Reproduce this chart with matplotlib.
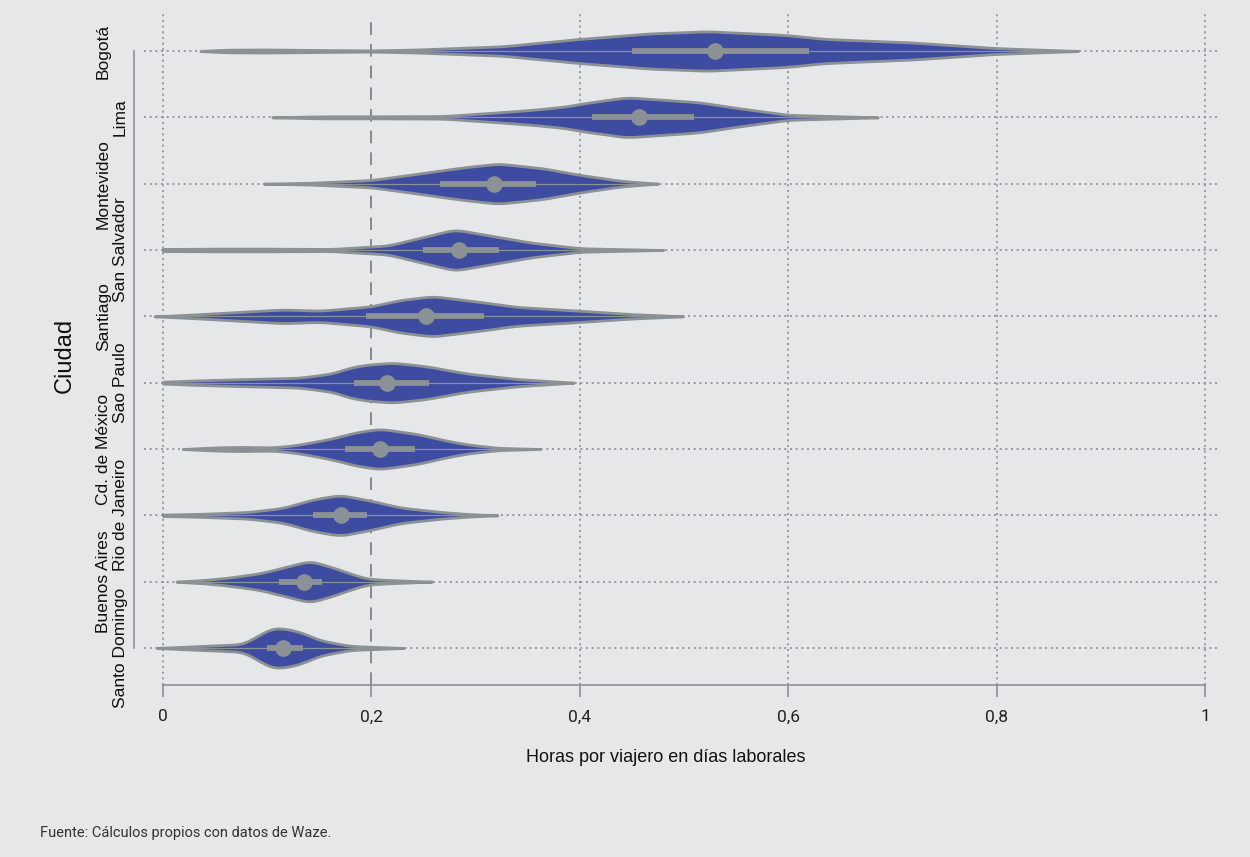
import matplotlib
matplotlib.use('Agg')
import matplotlib.pyplot as plt
import numpy as np

# ciudades de arriba hacia abajo
ciudades = ["Bogotá", "Lima", "Montevideo", "San Salvador", "Santiago",
            "Sao Paulo", "Cd. de México", "Rio de Janeiro", "Buenos Aires",
            "Santo Domingo"]

# perfiles de densidad (horas, densidad relativa) de cada violín
perfil_x = [
    [0.036, 0.06, 0.10, 0.14, 0.20, 0.2415, 0.326, 0.40, 0.467, 0.523, 0.599, 0.635, 0.72, 0.799, 0.878],
    [0.105, 0.15, 0.20, 0.27, 0.326, 0.36, 0.388, 0.40, 0.445, 0.495, 0.515, 0.55, 0.60, 0.635, 0.686],
    [0.097, 0.141, 0.20, 0.244, 0.287, 0.322, 0.365, 0.40, 0.44, 0.475],
    [0.0, 0.05, 0.10, 0.162, 0.216, 0.248, 0.28, 0.319, 0.354, 0.40, 0.44, 0.48],
    [-0.008, 0.03, 0.067, 0.115, 0.151, 0.20, 0.227, 0.259, 0.307, 0.34, 0.40, 0.451, 0.499],
    [0.0, 0.03, 0.067, 0.131, 0.163, 0.18, 0.196, 0.221, 0.253, 0.292, 0.34, 0.394],
    [0.019, 0.05, 0.074, 0.106, 0.128, 0.160, 0.186, 0.208, 0.244, 0.272, 0.292, 0.323, 0.362],
    [0.0, 0.036, 0.083, 0.115, 0.144, 0.17, 0.199, 0.227, 0.266, 0.295, 0.321],
    [0.013, 0.04, 0.061, 0.093, 0.115, 0.141, 0.163, 0.18, 0.196, 0.22, 0.258],
    [-0.006, 0.036, 0.077, 0.09, 0.106, 0.125, 0.138, 0.151, 0.18, 0.231],
]
perfil_d = [
    [0, 1.2, 1.4, 1.0, 0.5, 1.3, 4.3, 11, 16, 18, 14.5, 11, 7.7, 2.7, 0],
    [0, 1.0, 1.0, 1.3, 5.3, 8, 11, 13.5, 20, 16.5, 15, 9.5, 2.5, 1.5, 0],
    [0, 0.8, 3.3, 9, 14.7, 18.3, 14, 8, 2.5, 0],
    [1.0, 1.3, 1.3, 1.0, 4.3, 12, 19.7, 13, 7, 1.7, 0.8, 0],
    [0, 2, 4.3, 7.3, 6, 10.7, 17.3, 21.5, 15, 10, 6, 2.3, 0],
    [0.8, 2, 3, 4.5, 8.5, 14, 16.5, 18.3, 15, 8.3, 3.3, 0],
    [0, 1.5, 2, 1.5, 3.7, 9.5, 16, 19.3, 14.3, 8, 4.3, 1, 0],
    [0.6, 1.3, 3, 6.5, 14, 18, 13, 7, 3, 1, 0],
    [0, 1.5, 3.3, 7.3, 12.3, 18.3, 12.5, 7, 2.5, 1.3, 0],
    [0, 1.7, 3.3, 10, 17.7, 15.5, 11.5, 6.5, 1.7, 0],
]

# cuartiles y mediana
q1 = [0.450, 0.412, 0.266, 0.250, 0.195, 0.183, 0.175, 0.144, 0.111, 0.100]
mediana = [0.530, 0.457, 0.318, 0.284, 0.252, 0.215, 0.208, 0.171, 0.135, 0.115]
q3 = [0.620, 0.510, 0.358, 0.322, 0.308, 0.255, 0.242, 0.196, 0.153, 0.134]

ticks_x = [0, 0.2, 0.4, 0.6, 0.8, 1.0]
ticks_x_lbl = ["0", "0,2", "0,4", "0,6", "0,8", "1"]

FONDO = '#e6e7e8'
AZUL = '#3d4ba0'
GRIS = '#8b9194'
GRIS_GRID = '#8a8f93'

fig = plt.figure(figsize=(12.5, 8.57), dpi=100)
fig.patch.set_facecolor(FONDO)
ax = fig.add_axes([144 / 1250, 172 / 857, 1073 / 1250, 671 / 857])
ax.set_facecolor(FONDO)

n = len(ciudades)
filas = np.arange(n)
ax.set_xlim(-0.0182, 1.0115)
ax.set_ylim(n - 1 + 0.558, -0.558)

# rejilla
for i in filas:
    ax.axhline(i, color=GRIS_GRID, lw=1.2, ls=(0, (1.2, 2.2)), zorder=1)
for t in ticks_x:
    if t == 0.2:
        ax.axvline(t, color='#7d8386', lw=1.3, ls=(0, (7, 5)), zorder=1)
    else:
        ax.axvline(t, color=GRIS_GRID, lw=1.2, ls=(0, (1.2, 2.2)), zorder=1)

ancho = 0.295
paso = 0.001
k = np.hanning(31)
k /= k.sum()
for i in filas:
    px = np.array(perfil_x[i], dtype=float)
    pd_ = np.array(perfil_d[i], dtype=float)
    xs = np.arange(px[0], px[-1] + paso / 2, paso)
    d = np.interp(xs, px, pd_)
    # suavizado del perfil con ventana de ancho fijo en horas
    h = len(k) // 2
    d = np.convolve(np.pad(d, h, mode='edge'), k, mode='valid')
    d[0] = pd_[0]
    d[-1] = pd_[-1]
    w = d / d.max() * ancho
    ax.fill_between(xs, i - w, i + w, facecolor=AZUL, edgecolor=GRIS,
                    lw=2.0, zorder=3)
    # línea fina y caja intercuartil
    ax.plot([px[0], px[-1]], [i, i], color=GRIS, lw=0.9, zorder=4,
            solid_capstyle='butt')
    ax.plot([q1[i], q3[i]], [i, i], color=GRIS, lw=4.2, zorder=5,
            solid_capstyle='butt')
    ax.plot(mediana[i], i, 'o', color=GRIS, ms=12, mec='none', zorder=6)

# ejes
for s in ['top', 'right']:
    ax.spines[s].set_visible(False)
ax.spines['bottom'].set_bounds(0, 1)
ax.spines['bottom'].set_color(GRIS)
ax.spines['bottom'].set_linewidth(1.2)
ax.spines['left'].set_position(('outward', 7.2))
ax.spines['left'].set_bounds(0, n - 1)
ax.spines['left'].set_color(GRIS)
ax.spines['left'].set_linewidth(1.2)

ax.set_xticks(ticks_x)
ax.set_xticklabels(ticks_x_lbl, fontsize=12.5, family='Roboto', color='#222222')
ax.tick_params(axis='x', length=8.6, width=1.2, color=GRIS, pad=9)
ax.set_yticks([])

# nombres de ciudades en dos columnas alternadas
for i, c in enumerate(ciudades):
    off = -33 if i % 2 == 0 else -16
    ax.annotate(c, xy=(0, i), xycoords=ax.get_yaxis_transform(),
                xytext=(off, 0), textcoords='offset pixels',
                rotation=90, ha='right', va='center',
                fontsize=12.5, family='Liberation Sans', color='#111111')

fig.text(65 / 1250, 1 - 355 / 857, "Ciudad", rotation=90, ha='center',
         va='center', fontsize=17, family='Liberation Sans', color='#111111')
fig.text(666 / 1250, 1 - 758 / 857, "Horas por viajero en días laborales",
         ha='center', va='center', fontsize=13, family='Liberation Sans',
         color='#111111')
fig.text(40 / 1250, 1 - 833 / 857, "Fuente: Cálculos propios con datos de Waze.",
         ha='left', va='center', fontsize=10.5, family='Roboto', color='#333333')

fig.savefig('out.png', dpi=100, facecolor=FONDO)
